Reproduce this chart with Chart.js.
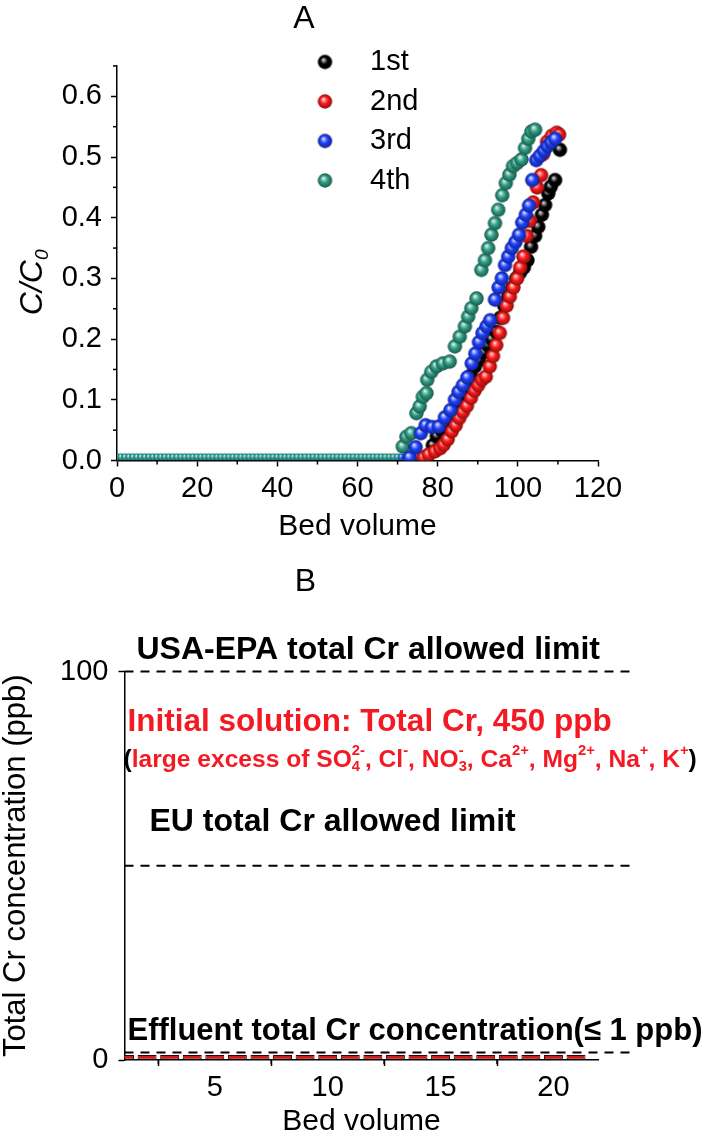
<!DOCTYPE html>
<html>
<head>
<meta charset="utf-8">
<script src="https://cdn.jsdelivr.net/npm/chart.js@4/dist/chart.umd.min.js"></script>
<style>
  html, body { margin: 0; padding: 0; background: #fff; }
  #wrap { position: relative; width: 701px; height: 1140px; }
  #chartA { position: absolute; left: 0; top: 0; }
  #chartB { position: absolute; left: 0; top: 560px; }
</style>
</head>
<body>
<div id="wrap">
  <canvas id="chartA" width="701" height="560"></canvas>
  <canvas id="chartB" width="701" height="580"></canvas>
</div>
<script>
// ---- Panel A: breakthrough curves, C/C0 vs bed volume ----
const runLabels = ['1st', '2nd', '3rd', '4th'];
const runColors = ['#000000', '#ff1a1a', '#1e40ff', '#2f9e84'];

const bv1 = [77.5, 78.8, 79.8, 81, 82.2, 83.3, 84.3, 85.3, 86.3, 87.3, 88.3, 89.3, 90.3, 91.5, 92.5, 93.5, 94.6, 95.6, 96.6, 97.6, 98.6, 99.6, 100.6, 101.5, 102.4, 103.3, 104.3, 105.1, 106, 106.8, 107.6, 108.2, 109.3, 110.5];
const c1 = [0.008, 0.025, 0.04, 0.05, 0.06, 0.07, 0.082, 0.095, 0.11, 0.125, 0.14, 0.155, 0.165, 0.178, 0.19, 0.2, 0.212, 0.235, 0.255, 0.27, 0.285, 0.3, 0.31, 0.318, 0.33, 0.352, 0.37, 0.385, 0.405, 0.421, 0.44, 0.451, 0.462, 0.512];

const bv2 = [76.5, 77.8, 79.3, 80.6, 81.5, 82.5, 83.5, 84.5, 85.4, 86.3, 87.3, 88.3, 89.2, 90.1, 91, 92, 93, 93.8, 94.6, 95.5, 96.3, 97.2, 98, 98.9, 99.8, 100.6, 101.4, 102.2, 103, 103.8, 104.8, 105.8, 106.3, 107.3, 108.5, 109.7, 110.3];
const c2 = [0.005, 0.01, 0.015, 0.02, 0.026, 0.035, 0.048, 0.058, 0.07, 0.08, 0.09, 0.103, 0.115, 0.124, 0.133, 0.138, 0.155, 0.172, 0.19, 0.21, 0.235, 0.255, 0.27, 0.285, 0.3, 0.318, 0.336, 0.37, 0.395, 0.425, 0.45, 0.47, 0.505, 0.525, 0.535, 0.54, 0.537];

const bv3 = [73, 74.5, 75.8, 77, 78.6, 80.3, 81.8, 83.2, 84.3, 85.2, 86.3, 87.4, 88.5, 89.4, 90.3, 91.2, 92.2, 93.1, 94.3, 95.2, 96, 96.8, 97.6, 98.5, 99.4, 100.3, 101.1, 102, 102.8, 103.6, 104.6, 105.5, 106.5, 107.4, 108.3, 109.3];
const c3 = [0.005, 0.022, 0.045, 0.058, 0.055, 0.056, 0.071, 0.083, 0.1, 0.113, 0.124, 0.137, 0.16, 0.176, 0.195, 0.21, 0.221, 0.231, 0.265, 0.285, 0.3, 0.322, 0.336, 0.35, 0.36, 0.372, 0.392, 0.405, 0.42, 0.462, 0.495, 0.502, 0.51, 0.518, 0.524, 0.53];

const bv4 = [71.3, 72.2, 73.4, 74.7, 75.5, 76.3, 77.2, 77.4, 78.4, 79.7, 81.3, 83, 84.3, 85.5, 86.8, 87.6, 88.4, 89.7, 90.9, 91.8, 92.6, 93.4, 94.3, 95.1, 96.1, 97, 97.9, 98.8, 99.8, 100.9, 101.8, 102.6, 103.4, 104.3];
const c4 = [0.023, 0.039, 0.045, 0.078, 0.089, 0.105, 0.111, 0.133, 0.146, 0.155, 0.16, 0.163, 0.188, 0.204, 0.221, 0.237, 0.251, 0.267, 0.314, 0.33, 0.35, 0.372, 0.391, 0.413, 0.437, 0.457, 0.471, 0.485, 0.49, 0.496, 0.515, 0.53, 0.542, 0.545];

// points lying on the baseline before breakthrough (small markers)
const base1 = [75, 76, 77];
const base2 = [74, 75, 76];
const base3 = [71, 72, 73];
const base4 = [0, 1, 2, 3, 4, 5, 6, 7, 8, 9, 10, 11, 12, 13, 14, 15, 16, 17, 18, 19, 20, 21, 22, 23, 24, 25, 26, 27, 28, 29, 30, 31, 32, 33, 34, 35, 36, 37, 38, 39, 40, 41, 42, 43, 44, 45, 46, 47, 48, 49, 50, 51, 52, 53, 54, 55, 56, 57, 58, 59, 60, 61, 62, 63, 64, 65, 66, 67, 68, 69, 70];
const baseC = 0.006;

// ---- Panel B: effluent total Cr vs bed volume ----
const bedB = [1, 2, 3, 4, 5, 6, 7, 8, 9, 10, 11, 12, 13, 14, 15, 16, 17, 18, 19, 20, 21];
const effluentPpb = [1.3, 1.3, 1.3, 1.3, 1.3, 1.3, 1.3, 1.3, 1.3, 1.3, 1.3, 1.3, 1.3, 1.3, 1.3, 1.3, 1.3, 1.3, 1.3, 1.3, 1.3];
const limitPpb = [100, 50, 1.9];
const limitSpan = [1, 23.6];
const limitNames = ['USA-EPA total Cr allowed limit', 'EU total Cr allowed limit', 'Effluent total Cr concentration(\u2264 1 ppb)'];

const RED = '#f41a24';
const FONT = '"Liberation Sans", Arial, Helvetica, sans-serif';
Chart.defaults.color = '#000';
Chart.defaults.font.family = FONT;

function fontStr(size, weight, style) {
    return `${style || 'normal'} ${weight || 'normal'} ${size}px ${FONT}`;
}

// text runs: [text, color, subscript, superscript]
function drawRuns(ctx, runs, x, y, size, weight, style, measureOnly) {
    const x0 = x;
    runs.forEach(([t, color, sub, sup]) => {
        ctx.font = fontStr(size, weight, style);
        ctx.fillStyle = color;
        if (!measureOnly) ctx.fillText(t, x, y);
        x += ctx.measureText(t).width;
        ctx.font = fontStr(size * 0.6, weight, style);
        let w = 0;
        if (sub) {
            if (!measureOnly) ctx.fillText(sub, x, y + size * 0.3);
            w = ctx.measureText(sub).width;
        }
        if (sup) {
            if (!measureOnly) ctx.fillText(sup, x, y - size * 0.38);
            w = Math.max(w, ctx.measureText(sup).width);
        }
        x += w;
    });
    return x - x0;
}

function mixRgb(hex, other, t) {
    const a = [1, 3, 5].map(i => parseInt(hex.substr(i, 2), 16));
    const b = [1, 3, 5].map(i => parseInt(other.substr(i, 2), 16));
    return a.map((v, i) => Math.round(v + (b[i] - v) * t));
}
const mix = (hex, other, t) => 'rgb(' + mixRgb(hex, other, t).join(',') + ')';
const mixHex = (hex, other, t) => '#' + mixRgb(hex, other, t).map(v => v.toString(16).padStart(2, '0')).join('');

// shaded ball marker
function makeBall(color, r) {
    const c = document.createElement('canvas');
    c.width = c.height = Math.ceil(2 * r + 2);
    const g = c.getContext('2d');
    const m = c.width / 2;
    const grad = g.createRadialGradient(m - r * 0.25, m - r * 0.35, 0, m, m, r);
    grad.addColorStop(0, '#ffffff');
    grad.addColorStop(0.2, mix(color, '#ffffff', 0.55));
    grad.addColorStop(0.5, color);
    grad.addColorStop(1, mix(color, '#000000', 0.45));
    g.fillStyle = grad;
    g.beginPath();
    g.arc(m, m, r, 0, Math.PI * 2);
    g.fill();
    return c;
}

const bigBalls = runColors.map(c => makeBall(c, 7.2));
const smallBalls = runColors.map(c => makeBall(mixHex(c, '#40d0e0', 0.3), 3.6));

// minor tick marks
const minorTicks = {
    id: 'minorTicks',
    afterDraw(chart, args, opts) {
        const {ctx} = chart;
        ctx.save();
        ctx.strokeStyle = '#000';
        ctx.lineWidth = 1.5;
        Object.entries(opts.steps || {}).forEach(([id, step]) => {
            const s = chart.scales[id];
            const majors = s.ticks.map(t => t.value);
            for (let v = Math.ceil(s.min / step - 1e-9) * step; v <= s.max + 1e-9; v += step) {
                if (majors.some(m => Math.abs(m - v) < 1e-9)) continue;
                const p = s.getPixelForValue(v);
                ctx.beginPath();
                if (s.isHorizontal()) {
                    ctx.moveTo(p, s.top);
                    ctx.lineTo(p, s.top + 4);
                } else {
                    ctx.moveTo(s.right, p);
                    ctx.lineTo(s.right - 4, p);
                }
                ctx.stroke();
            }
        });
        ctx.restore();
    }
};

// legend and y-axis title of panel A
const decorA = {
    id: 'decorA',
    afterDraw(chart) {
        const {ctx, chartArea: a} = chart;
        ctx.save();
        ctx.textBaseline = 'middle';
        ctx.textAlign = 'left';
        runLabels.forEach((label, i) => {
            const y = a.top - 4 + i * 39.5;
            const img = bigBalls[i];
            ctx.drawImage(img, a.left + 208 - img.width / 2, y - img.height / 2);
            drawRuns(ctx, [[label, '#000']], a.left + 253, y, 29);
        });
        const title = [['C/C', '#000', '0']];
        ctx.translate(33, (a.top + a.bottom) / 2 + 19);
        ctx.rotate(-Math.PI / 2);
        const w = drawRuns(ctx, title, 0, 0, 32, 'normal', 'italic', true);
        drawRuns(ctx, title, -w / 2, 0, 32, 'normal', 'italic');
        ctx.restore();
    }
};

// limit labels and solution note of panel B
const ionRuns = [
    ['(', '#000'],
    ['large excess of SO', RED, '4', '2-'],
    [', Cl', RED, null, '-'],
    [', NO', RED, '3', '-'],
    [', Ca', RED, null, '2+'],
    [', Mg', RED, null, '2+'],
    [', Na', RED, null, '+'],
    [', K', RED, null, '+'],
    [')', '#000']
];
const notesB = {
    id: 'notesB',
    afterDraw(chart) {
        const {ctx, chartArea: a, scales: {y}} = chart;
        ctx.save();
        ctx.textBaseline = 'middle';
        ctx.textAlign = 'left';
        drawRuns(ctx, [[limitNames[0], '#000']], a.left + 12, y.getPixelForValue(limitPpb[0]) - 21, 32, 'bold');
        drawRuns(ctx, [[limitNames[1], '#000']], a.left + 25, y.getPixelForValue(limitPpb[1]) - 44, 32, 'bold');
        drawRuns(ctx, [[limitNames[2], '#000']], a.left + 3, y.getPixelForValue(limitPpb[2]) - 21, 31, 'bold');
        drawRuns(ctx, [['Initial solution: Total Cr, 450 ppb', RED]], a.left + 3, a.top + 50.5, 31.5, 'bold');
        drawRuns(ctx, ionRuns, a.left - 1, a.top + 88.5, 24.6, 'bold');
        ctx.restore();
    }
};

const axisStyle = {
    border: { display: true, color: '#000', width: 1.5 },
    grid: { drawOnChartArea: false, drawTicks: true, tickLength: 6, tickColor: '#000', tickWidth: 1.5 }
};

function series(i, base, bv, c) {
    return {
        label: runLabels[i],
        data: base.map(x => ({x, y: baseC})).concat(bv.map((x, k) => ({x, y: c[k]}))),
        pointStyle: ctx => ctx.dataIndex < base.length ? smallBalls[i] : bigBalls[i],
        pointRadius: ctx => ctx.dataIndex < base.length ? 3.6 : 7.2,
        order: [2, 1, 0, 3][i]
    };
}

new Chart(document.getElementById('chartA'), {
    type: 'scatter',
    data: {
        datasets: [
            series(0, base1, bv1, c1),
            series(1, base2, bv2, c2),
            series(2, base3, bv3, c3),
            series(3, base4, bv4, c4)
        ]
    },
    options: {
        responsive: false,
        animation: false,
        events: [],
        layout: { padding: { left: 10, right: 103, top: 0, bottom: 0 } },
        plugins: {
            legend: { display: false },
            tooltip: { enabled: false },
            title: { display: true, text: 'A', font: { size: 32, weight: 'normal' }, padding: { top: 0, bottom: 27.6 } },
            minorTicks: { steps: { x: 10, y: 0.05 } }
        },
        scales: {
            x: {
                type: 'linear', min: 0, max: 120,
                afterFit: s => { s.height = 99.5; },
                ticks: { stepSize: 20, includeBounds: false, font: { size: 29 }, padding: 5, maxRotation: 0 },
                title: { display: true, text: 'Bed volume', font: { size: 30 }, padding: { top: 0, bottom: 15 } },
                ...axisStyle
            },
            y: {
                min: 0, max: 0.65,
                afterFit: s => { s.width = 107; },
                ticks: { stepSize: 0.1, includeBounds: false, font: { size: 29 }, padding: 9, callback: v => v.toFixed(1) },
                ...axisStyle
            }
        }
    },
    plugins: [minorTicks, decorA]
});

new Chart(document.getElementById('chartB'), {
    type: 'bar',
    data: {
        datasets: [
            {
                type: 'bar',
                data: bedB.map((x, i) => ({x, y: effluentPpb[i]})),
                backgroundColor: '#d41c1c',
                borderColor: '#3a0000',
                borderWidth: 1,
                borderSkipped: false,
                barPercentage: 1,
                categoryPercentage: 0.84
            },
            ...limitPpb.map(v => ({
                type: 'line',
                data: limitSpan.map(x => ({x, y: v})),
                borderColor: '#000',
                borderWidth: 2,
                borderDash: [9, 7],
                pointRadius: 0,
                clip: false
            }))
        ]
    },
    options: {
        responsive: false,
        animation: false,
        events: [],
        layout: { padding: { left: 12, right: 102.4, top: 0, bottom: 0 } },
        plugins: {
            legend: { display: false },
            tooltip: { enabled: false },
            title: { display: true, text: 'B', font: { size: 32, weight: 'normal' }, padding: { top: 2.8, bottom: 70.3 } },
            minorTicks: { steps: { x: 2.5 } }
        },
        scales: {
            x: {
                type: 'linear', min: 1, max: 22, offset: false,
                afterFit: s => { s.height = 80; },
                ticks: { stepSize: 5, includeBounds: false, font: { size: 29 }, padding: 5, maxRotation: 0 },
                title: { display: true, text: 'Bed volume', font: { size: 30 }, padding: { top: 0, bottom: 0 } },
                ...axisStyle
            },
            y: {
                min: 0, max: 100,
                afterFit: s => { s.width = 112.5; },
                ticks: { stepSize: 100, font: { size: 29 }, padding: 10 },
                title: { display: true, text: 'Total Cr concentration (ppb)', font: { size: 31 }, padding: { top: -14, bottom: 0 } },
                ...axisStyle
            }
        }
    },
    plugins: [minorTicks, notesB]
});
</script>
</body>
</html>
